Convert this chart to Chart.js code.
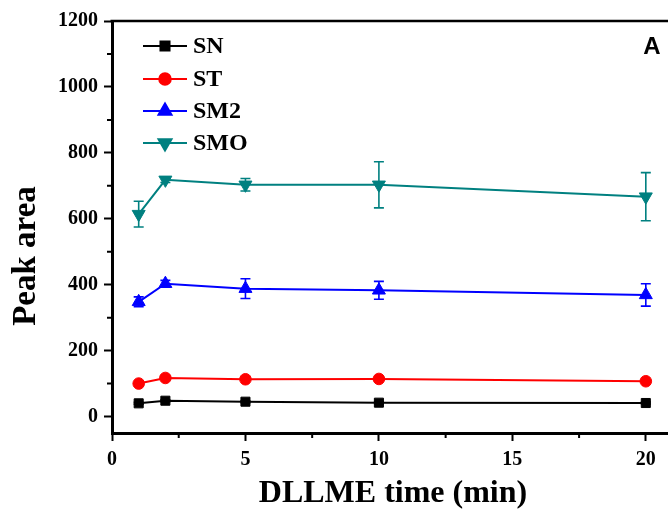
<html>
  <head>
    <script src="https://cdn.jsdelivr.net/npm/chart.js"></script>
    <style>
      body { margin: 0; overflow: hidden; background: #fff; }
    </style>
  </head>
  <body>
    <canvas id="myChart" width="681" height="514"></canvas>
    <script>
      // DLLME extraction time vs peak area
      const times = [1, 2, 5, 10, 20];
      const seriesNames = ['SN', 'ST', 'SM2', 'SMO'];
      const snArea = [40, 48, 45, 42, 41];
      const stArea = [100, 117, 113, 114, 107];
      const sm2Area = [348, 403, 388, 383, 369];
      const smoArea = [614, 718, 703, 703, 667];
      const snErr = [3, 3, 3, 3, 3];
      const stErr = [3, 4, 3, 3, 3];
      const sm2Err = [15, 10, 30, 27, 34];
      const smoErr = [39, 8, 19, 70, 73];
      const xTicks = [0, 5, 10, 15, 20];
      const xMinor = [2.5, 7.5, 12.5, 17.5];
      const yTicks = [0, 200, 400, 600, 800, 1000, 1200];
      const yMinor = [100, 300, 500, 700, 900, 1100];

      const serif = 'Liberation Serif, Times New Roman, serif';

      const styles = [
        { color: '#000000', pointStyle: 'rect', radius: 6.4, rotation: 0 },
        { color: '#ff0000', pointStyle: 'circle', radius: 5.8, rotation: 0 },
        { color: '#0000ff', pointStyle: 'triangle', radius: 7.5, rotation: 0 },
        { color: '#008080', pointStyle: 'triangle', radius: 7.5, rotation: 180 }
      ];
      const values = [snArea, stArea, sm2Area, smoArea];
      const errors = [snErr, stErr, sm2Err, smoErr];

      const datasets = seriesNames.map((name, i) => ({
        label: name,
        data: times.map((t, j) => ({ x: t, y: values[i][j] })),
        errors: errors[i],
        borderColor: styles[i].color,
        backgroundColor: styles[i].color,
        borderWidth: 2,
        pointStyle: styles[i].pointStyle,
        pointRadius: styles[i].radius,
        pointRotation: styles[i].rotation,
        pointBorderWidth: 1,
        tension: 0
      }));

      // vertical error bars with caps, under the markers
      const errorBars = {
        id: 'errorBars',
        beforeDatasetsDraw(chart) {
          const { ctx, scales: { x, y } } = chart;
          ctx.save();
          ctx.lineWidth = 1.6;
          chart.data.datasets.forEach(ds => {
            ctx.strokeStyle = ds.borderColor;
            ds.data.forEach((p, j) => {
              const e = ds.errors[j];
              const px = x.getPixelForValue(p.x);
              const top = y.getPixelForValue(p.y + e);
              const bot = y.getPixelForValue(p.y - e);
              ctx.beginPath();
              ctx.moveTo(px, top); ctx.lineTo(px, bot);
              ctx.moveTo(px - 5, top); ctx.lineTo(px + 5, top);
              ctx.moveTo(px - 5, bot); ctx.lineTo(px + 5, bot);
              ctx.stroke();
            });
          });
          ctx.restore();
        }
      };

      // minor ticks, top frame line, titles, legend and panel letter
      const decorations = {
        id: 'decorations',
        afterDraw(chart) {
          const { ctx, chartArea: a, scales: { x, y } } = chart;
          ctx.save();
          ctx.strokeStyle = '#000';
          ctx.lineWidth = 2;
          ctx.beginPath();
          xMinor.forEach(v => {
            const px = x.getPixelForValue(v);
            ctx.moveTo(px, a.bottom); ctx.lineTo(px, a.bottom + 5);
          });
          yMinor.forEach(v => {
            const py = y.getPixelForValue(v);
            ctx.moveTo(a.left, py); ctx.lineTo(a.left - 5, py);
          });
          ctx.stroke();

          ctx.lineWidth = 2.5;
          ctx.beginPath();
          ctx.moveTo(a.left - 1.5, a.top);
          ctx.lineTo(a.right, a.top);
          ctx.stroke();

          ctx.fillStyle = '#000';
          ctx.font = 'bold 32px ' + serif;
          ctx.textAlign = 'center';
          ctx.textBaseline = 'middle';
          ctx.fillText('DLLME time (min)', 393, 494);
          ctx.font = 'bold 33px ' + serif;
          ctx.translate(26, 256);
          ctx.rotate(-Math.PI / 2);
          ctx.fillText('Peak area', 0, 0);
          ctx.setTransform(1, 0, 0, 1, 0, 0);

          ctx.font = 'bold 24px Liberation Sans, Arial, sans-serif';
          ctx.fillText('A', 652, 47);

          const rows = [46, 79, 111, 143];
          ctx.font = 'bold 24px ' + serif;
          ctx.textAlign = 'left';
          chart.data.datasets.forEach((ds, i) => {
            const ry = rows[i];
            ctx.strokeStyle = ds.borderColor;
            ctx.fillStyle = ds.borderColor;
            ctx.lineWidth = 2;
            ctx.beginPath();
            ctx.moveTo(143, ry); ctx.lineTo(187, ry);
            ctx.stroke();
            Chart.helpers.drawPoint(ctx, {
              pointStyle: ds.pointStyle,
              radius: ds.pointRadius,
              rotation: ds.pointRotation,
              borderWidth: 1
            }, 165, ry);
            ctx.fillStyle = '#000';
            ctx.fillText(ds.label, 193, ry + 1);
          });
          ctx.restore();
        }
      };

      const tickFont = { family: serif, weight: 'bold', size: 20 };

      const config = {
        type: 'line',
        data: { datasets: datasets },
        options: {
          responsive: false,
          animation: false,
          layout: { padding: { top: 21, left: 0, right: 0, bottom: 0 } },
          plugins: { legend: { display: false }, tooltip: { enabled: false } },
          scales: {
            x: {
              type: 'linear',
              min: 0,
              max: 21,
              afterBuildTicks: s => { s.ticks = xTicks.map(v => ({ value: v })); },
              afterFit: s => { s.height = 81; },
              grid: { drawOnChartArea: false, tickLength: 8, tickWidth: 2, tickColor: '#000' },
              border: { color: '#000', width: 3 },
              ticks: { color: '#000', font: tickFont, padding: 7, maxRotation: 0, callback: v => String(v) }
            },
            y: {
              min: -50,
              max: 1200,
              afterBuildTicks: s => { s.ticks = yTicks.map(v => ({ value: v })); },
              afterFit: s => { s.width = 112; },
              grid: { drawOnChartArea: false, tickLength: 8, tickWidth: 2, tickColor: '#000' },
              border: { color: '#000', width: 3 },
              ticks: { color: '#000', font: tickFont, padding: 6, callback: v => String(v) }
            }
          }
        },
        plugins: [errorBars, decorations]
      };

      const ctx = document.getElementById('myChart').getContext('2d');
      const myChart = new Chart(ctx, config);
    </script>
  </body>
</html>
